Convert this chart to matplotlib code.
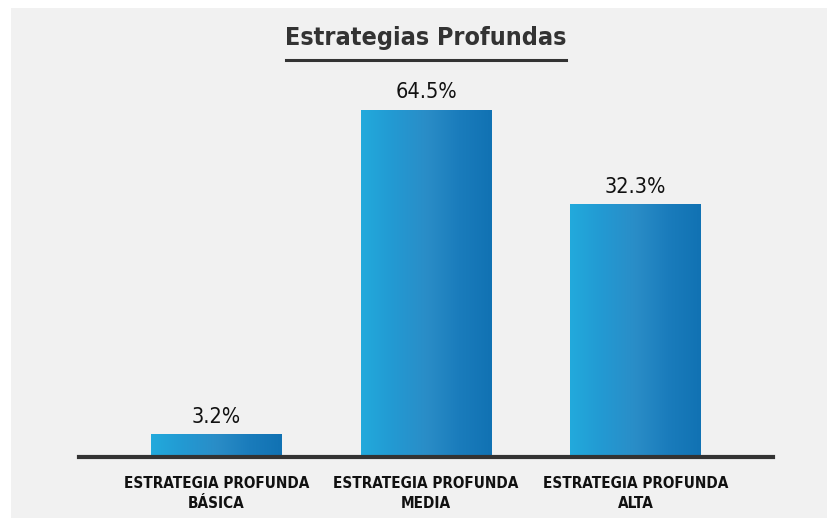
import matplotlib.pyplot as plt
import numpy as np
from matplotlib.colors import LinearSegmentedColormap
from matplotlib.patches import Rectangle
from matplotlib.lines import Line2D

categories = ["ESTRATEGIA PROFUNDA\nBÁSICA", "ESTRATEGIA PROFUNDA\nMEDIA", "ESTRATEGIA PROFUNDA\nALTA"]
value_labels = ["3.2%", "64.5%", "32.3%"]
# bar heights as drawn in the picture (not proportional to the labels)
bar_heights = [4.1, 64.5, 47.0]

plt.rcParams["font.family"] = ["DejaVu Sans"]
plt.rcParams["font.stretch"] = "condensed"

W, H = 827, 518
fig = plt.figure(figsize=(W / 100, H / 100), dpi=100, facecolor="white")

# light gray panel
fig.patches.append(Rectangle((11 / W, 0), 1 - 11 / W, 1 - 8 / H, transform=fig.transFigure,
                             facecolor="#f1f1f1", edgecolor="none", zorder=-10))

ax_left, ax_right = 79, 773
ax_bottom, ax_top = 457, 8
ax = fig.add_axes([ax_left / W, 1 - ax_bottom / H, (ax_right - ax_left) / W, (ax_bottom - ax_top) / H])
ax.set_facecolor("none")

x = np.arange(len(categories))
bar_w = 0.625
ax.set_xlim(-0.656, 2.656)
ax.set_ylim(0, 64.5 * (ax_bottom - ax_top) / (ax_bottom - 110))

cmap = LinearSegmentedColormap.from_list("bars", ["#22aadc", "#2399d2", "#2a8dc7", "#1a7cbc", "#1172b3"])
grad = np.linspace(0, 1, 256).reshape(1, -1)
for xi, h, lab in zip(x, bar_heights, value_labels):
    ax.imshow(grad, cmap=cmap, aspect="auto", extent=[xi - bar_w / 2, xi + bar_w / 2, 0, h], zorder=2)
    ax.text(xi, h + 1.4, lab, ha="center", va="bottom", fontsize=15.5, color="#111111")

ax.set_xticks(x)
ax.set_xticklabels(categories, fontsize=11, fontweight="bold", color="#111111", linespacing=1.4)
ax.tick_params(axis="x", length=0, pad=14)
ax.set_yticks([])
for s in ["left", "right", "top"]:
    ax.spines[s].set_visible(False)
ax.spines["bottom"].set_linewidth(3)
ax.spines["bottom"].set_color("#333333")
ax.spines["bottom"].set_zorder(3)

fig.text(426 / W, 1 - 38 / H, "Estrategias Profundas", ha="center", va="center",
         fontsize=18, fontweight="bold", color="#333333")
fig.lines.append(Line2D([286 / W, 566 / W], [1 - 60 / H, 1 - 60 / H], transform=fig.transFigure,
                        color="#333333", linewidth=2.2))

fig.savefig("out.png", dpi=100, facecolor="white")
